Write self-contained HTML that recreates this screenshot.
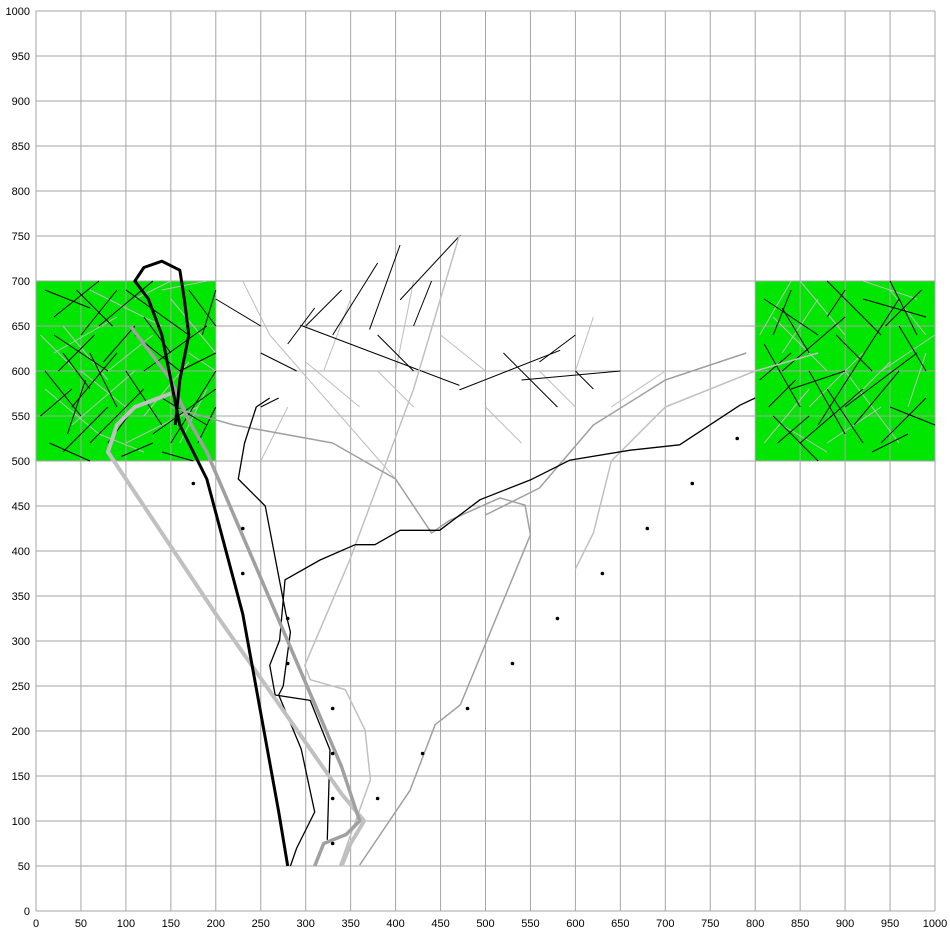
<!DOCTYPE html>
<html><head><meta charset="utf-8"><style>
html,body{margin:0;padding:0;background:#fff;}
svg{display:block;font-family:"Liberation Sans",sans-serif;}
</style></head><body>
<svg id="chart" width="950" height="935" xmlns="http://www.w3.org/2000/svg">
<g id="zones"></g><g id="grid"></g><g id="marks"></g><g id="axes"></g>
</svg>
<script>
const xTicks=[0,50,100,150,200,250,300,350,400,450,500,550,600,650,700,750,800,850,900,950,1000];
const yTicks=[0,50,100,150,200,250,300,350,400,450,500,550,600,650,700,750,800,850,900,950,1000];
const zonesData=[[0,500,200,700],[800,500,1000,700]];
const dotsX=[175,230,230,280,280,330,330,330,330,380,430,480,530,580,630,680,730,780];
const dotsY=[475,425,375,325,275,225,175,125,75,125,175,225,275,325,375,425,475,525];
const blackThick=[[280,50],[270,110],[230,330],[190,480],[160,540],[140,640],[125,680],[110,700],[120,715],[140,722],[160,712],[165,680],[170,640],[160,590],[155,540]];
const grayThick=[[310,50],[320,75],[345,85],[360,100],[340,160],[280,300],[220,440],[190,510],[170,545],[150,590],[120,630],[105,650]];
const lightThick=[[340,50],[350,75],[365,100],[340,130],[200,330],[80,510],[90,540],[110,560],[150,575]];
const blackThin1=[[283,50],[290,70],[310,110],[295,180],[270,240],[275,250],[283,310],[278,330],[255,450],[225,480],[232,520],[245,560],[260,570]];
const blackThin2=[[324,79],[327,179],[305,234],[266,240],[260,273],[271,301],[277,368],[316,390],[355,407],[377,407],[405,423],[449,423],[494,457],[550,479],[594,501],[661,512],[716,518],[783,562],[800,570]];
const grayThin=[[360,51],[416,134],[444,207],[472,229],[550,418],[544,451],[516,459],[460,434],[440,420],[400,480],[330,520],[220,540],[150,560]];
const lightThin=[[338,51],[372,146],[366,201],[344,246],[305,257],[299,273],[349,390],[420,580],[471,751]];
const lightThin2=[[600,380],[620,420],[640,500],[700,560],[800,600],[870,620]];
const graySeg2=[[500,440],[560,470],[620,540],[700,590],[790,620]];
const blackBranches=[[294,651,471,584],[471,579,583,623],[540,590,650,600],[371,646,405,740],[405,679,472,751],[330,640,380,720],[300,650,340,690],[420,650,440,700],[250,620,290,600],[250,650,200,680],[280,630,310,670],[520,620,580,560],[600,600,620,580],[250,560,270,570],[420,600,380,640],[560,610,600,640],
[10,690,60,670],[20,640,80,600],[40,560,90,620],[60,520,120,580],[100,690,170,640],[120,600,190,650],[130,530,200,580],[10,600,50,550],[70,650,130,700],[150,520,200,600],[30,510,80,560],[90,560,60,620],[110,640,160,600],[170,690,200,650],[20,660,70,700],[140,570,190,540],
[5,550,40,580],[15,520,60,500],[50,640,90,690],[80,520,110,560],[100,600,140,540],[60,580,30,620],[120,660,150,620],[180,520,200,560],[45,690,85,650],[95,505,130,520],[25,600,65,640],[160,600,200,620],[75,610,110,650],[140,510,175,500],[185,640,200,690],[35,530,55,590],
[810,680,870,640],[830,600,900,660],[850,520,920,580],[880,700,940,640],[900,560,980,620],[940,520,990,570],[820,550,870,500],[860,620,830,670],[920,680,990,660],[960,600,910,540],[840,580,900,600],[870,540,960,680],[810,630,850,560],[980,640,950,700],
[805,590,840,620],[825,520,860,550],[890,640,930,600],[950,560,1000,540],[900,690,880,660],[840,690,820,640],[930,510,970,530],[990,600,960,650],[860,600,900,530],[815,560,845,590],[945,650,985,690],[880,580,920,520]];
const grayBranches=[[230,700,260,640],[260,640,330,560],[330,560,400,480],[400,480,440,420],[300,610,360,560],[420,700,400,600],[350,680,320,600],[500,560,540,520],[560,600,600,560],[620,660,600,600],[640,560,700,600],[450,640,500,600],[280,560,250,500],[380,600,420,560],
[20,620,90,660],[40,540,110,600],[60,690,140,650],[100,520,180,560],[150,680,200,620],[10,580,70,530],[80,600,130,640],[120,550,170,610],[30,650,80,590],[160,520,190,580],[50,600,100,560],[140,690,190,700],[5,640,45,600],[110,680,150,700],[70,530,120,510],[170,620,200,600],
[820,660,880,600],[850,700,900,640],[880,520,940,560],[920,700,980,680],[940,600,1000,640],[810,520,860,580],[900,600,960,520],[830,620,870,680],[970,560,990,620],[860,560,920,620],[805,640,840,700],[950,690,990,640],[830,540,880,510],[910,570,950,610]];

const X=v=>36+v*0.899, Y=v=>911-v*0.9;
const NS='http://www.w3.org/2000/svg';
function mk(t,p,a){const e=document.createElementNS(NS,t);for(const k in a)e.setAttribute(k,a[k]);p.appendChild(e);return e;}
const gZ=document.getElementById('zones'),gG=document.getElementById('grid'),gM=document.getElementById('marks'),gA=document.getElementById('axes');
zonesData.forEach((z,i)=>{const r=mk('rect',gZ,{x:X(z[0]),y:Y(z[3]),width:X(z[2])-X(z[0]),height:Y(z[1])-Y(z[3]),fill:'#00e600'});

});
xTicks.forEach(v=>{const l=mk('line',gG,{x1:X(v),x2:X(v),y1:Y(0),y2:Y(1000),stroke:'#a6a6a6','stroke-width':1});


const t=mk('text',gA,{x:X(v),y:Y(0)+16,'text-anchor':'middle','font-size':11});t.textContent=v;

});
yTicks.forEach(v=>{const l=mk('line',gG,{x1:X(0),x2:X(1000),y1:Y(v),y2:Y(v),stroke:'#a6a6a6','stroke-width':1});


const t=mk('text',gA,{x:X(0)-6,y:Y(v)+4,'text-anchor':'end','font-size':11});t.textContent=v;

});
function seg(arr,col,w,name){arr.forEach(s=>{const l=mk('line',gM,{x1:X(s[0]),y1:Y(s[1]),x2:X(s[2]),y2:Y(s[3]),stroke:col,'stroke-width':w});

});}
seg(grayBranches,'#bdbdbd',1,'gray-branch');
seg(blackBranches,'#000',1,'black-branch');
function poly(arr,col,w,name){const p=mk('polyline',gM,{points:arr.map(q=>X(q[0])+','+Y(q[1])).join(' '),fill:'none',stroke:col,'stroke-width':w,'stroke-linejoin':'round'});

}
poly(lightThin,'#c0c0c0',1.5,'light-thin-path');
poly(lightThin2,'#c0c0c0',1.5,'light-thin-path-2');
poly(graySeg2,'#a0a0a0',1.5,'gray-thin-path-2');
poly(grayThin,'#a0a0a0',1.5,'gray-thin-path');
poly(blackThin1,'#000',1.3,'black-thin-path');
poly(blackThin2,'#000',1.3,'black-thin-path-2');
poly(lightThick,'#c0c0c0',4,'light-thick-path');
poly(grayThick,'#a0a0a0',3.5,'gray-thick-path');
poly(blackThick,'#000',3,'black-thick-path');
dotsX.forEach((x,i)=>{const c=mk('circle',gM,{cx:X(x),cy:Y(dotsY[i]),r:1.8,fill:'#000'});

});
</script>
</body></html>
